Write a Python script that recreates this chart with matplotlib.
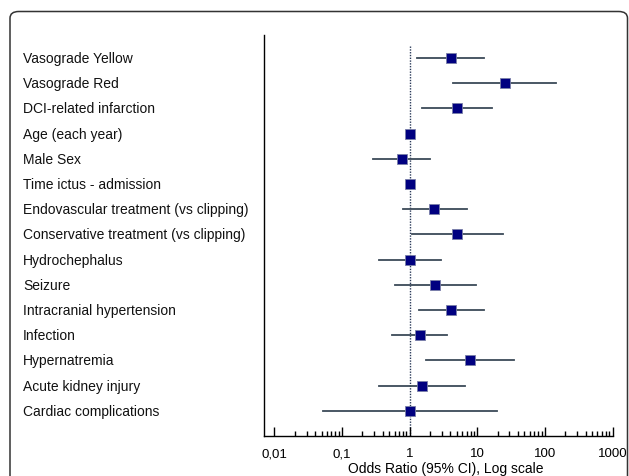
import matplotlib
matplotlib.use("Agg")
import matplotlib.pyplot as plt
from matplotlib.patches import FancyBboxPatch
from matplotlib.ticker import FixedLocator, NullFormatter
from matplotlib.transforms import blended_transform_factory

labels = [
    "Vasograde Yellow", "Vasograde Red", "DCI-related infarction", "Age (each year)",
    "Male Sex", "Time ictus - admission", "Endovascular treatment (vs clipping)",
    "Conservative treatment (vs clipping)", "Hydrochephalus", "Seizure",
    "Intracranial hypertension", "Infection", "Hypernatremia", "Acute kidney injury",
    "Cardiac complications",
]
odds = [4.1, 26.0, 5.1, 1.03, 0.77, 1.03, 2.33, 5.1, 1.03, 2.4, 4.1, 1.42, 7.9, 1.52, 1.03]
ci_low = [1.28, 4.4, 1.55, 1.00, 0.29, 1.00, 0.79, 1.09, 0.356, 0.615, 1.37, 0.556, 1.76, 0.349, 0.052]
ci_high = [12.6, 148.0, 16.6, 1.06, 2.0, 1.06, 7.06, 23.8, 2.95, 9.6, 12.4, 3.64, 35.2, 6.5, 19.7]
tick_vals = [0.01, 0.1, 1, 10, 100, 1000]
tick_labels = ["0,01", "0,1", "1", "10", "100", "1000"]

W, H = 629, 477
fig = plt.figure(figsize=(W / 100, H / 100), dpi=100)
plt.rcParams['font.family'] = ['Liberation Sans', 'DejaVu Sans']

# rounded frame
frame = FancyBboxPatch((10 / W, -0.2), (W - 1.5 - 10) / W, (H - 12.5) / H + 0.2,
                       boxstyle="round,pad=0,rounding_size=0.014",
                       transform=fig.transFigure, fill=False, edgecolor="#333333",
                       linewidth=1.1, zorder=0)
fig.patches.append(frame)

left, right = 264 / W, 612.5 / W
bottom, top = (H - 437) / H, (H - 36) / H
ax = fig.add_axes([left, bottom, right - left, top - bottom])
ax.set_xscale("log")
ax.set_xlim(0.00706, 1000)
rows = list(range(1, len(labels) + 1))
ax.set_ylim(16.0, 0.085)

ax.plot([1, 1], [0.52, 16.0], linestyle=(0, (1, 1)), color="#2a3a5a", linewidth=1.0, zorder=1)

for r, o, lo, hi in zip(rows, odds, ci_low, ci_high):
    ax.plot([lo, hi], [r, r], color="#3b4a58", linewidth=1.3, zorder=2)
ax.plot(odds, rows, linestyle="none", marker="s", markersize=7.2,
        markerfacecolor="#000080", markeredgecolor="#7a7fa8", markeredgewidth=0.6, zorder=3)

for s in ["top", "right"]:
    ax.spines[s].set_visible(False)
ax.spines["left"].set_linewidth(1.0)
ax.spines["bottom"].set_linewidth(1.0)
ax.set_yticks([])

minor_vals = [m * t for t in tick_vals[:-1] for m in range(2, 10)]
ax.xaxis.set_major_locator(FixedLocator(tick_vals))
ax.set_xticklabels(tick_labels, fontsize=9.5)
ax.xaxis.set_minor_locator(FixedLocator(minor_vals))
ax.xaxis.set_minor_formatter(NullFormatter())
ax.tick_params(axis="x", which="major", direction="in", length=6.5, width=1.0, pad=8, colors="black")
ax.tick_params(axis="x", which="minor", direction="in", length=3.3, width=1.0)

trans = blended_transform_factory(fig.transFigure, ax.transData)
for r, lab in zip(rows, labels):
    ax.text(23 / W, r, lab, transform=trans, ha="left", va="center", fontsize=10, color="#111111")

fig.text(446 / W, 1 - 462 / H, "Odds Ratio (95% CI), Log scale", ha="center", va="top", fontsize=10)

fig.savefig("out.png", dpi=100)
